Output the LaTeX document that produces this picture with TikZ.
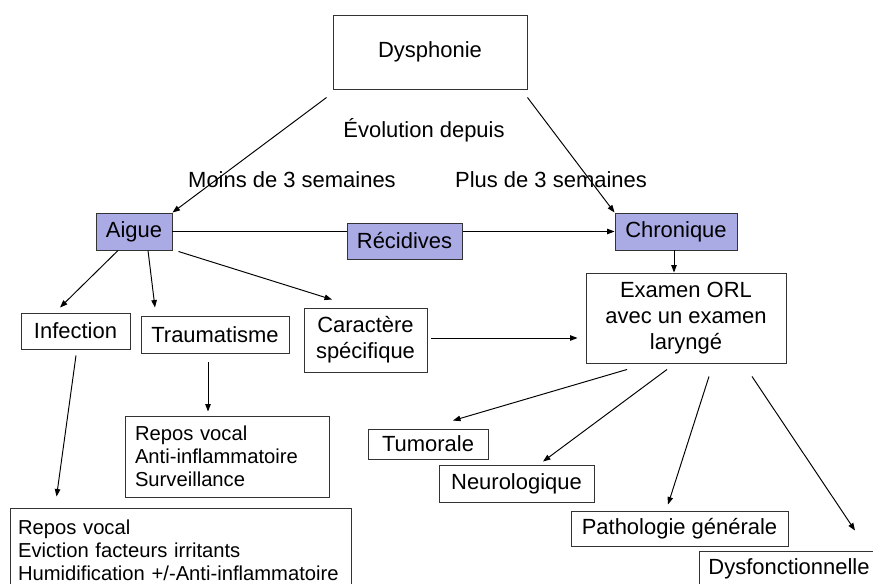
\documentclass[tikz,border=0pt]{standalone}
\usepackage{fontspec}
\setmainfont{Liberation Sans}
\usepackage{tikz}
\usetikzlibrary{arrows.meta,calc}

\definecolor{lavande}{RGB}{170,170,228}

\begin{document}
\begin{tikzpicture}[x=0.02cm,y=-0.02cm,line width=0.55pt,
    font=\fontsize{12.5}{14.6}\selectfont,
    box/.style={draw=black!80,fill=white,inner sep=0pt,align=center},
    hilite/.style={box,fill=lavande},
    liste/.style={draw=black!80,fill=white,inner xsep=0.2cm,inner ysep=0pt,align=left,
        font=\fontsize{11.5}{13.1}\selectfont},
    arr/.style={-{Triangle[length=1.5mm,width=1.1mm]}}]

    \useasboundingbox (0,0) rectangle (873,583);

    \node[box, minimum width=3.88cm, minimum height=1.48cm] (dys) at (430,52) {Dysphonie};
    \node (evol) at (424,130) {Évolution depuis};
    \node (moins) at (292,180) {Moins de 3 semaines};
    \node (plus) at (551,180) {Plus de 3 semaines};

    \node[hilite, minimum width=1.52cm, minimum height=0.74cm] (aigue) at (134,231.5) {Aigue};
    \node[hilite, minimum width=2.44cm, minimum height=0.74cm] (chron) at (676,231.5) {Chronique};

    \node[box, minimum width=4cm, minimum height=1.8cm] (exam) at (686,318)
        {Examen ORL\\avec un examen\\laryngé};
    \node[box, minimum width=2.18cm, minimum height=0.72cm] (infect) at (75.5,331) {Infection};
    \node[box, minimum width=2.96cm, minimum height=0.74cm] (trauma) at (215,334.5) {Traumatisme};
    \node[box, minimum width=2.46cm, minimum height=1.28cm] (carac) at (365.5,340) {Caractère\\spécifique};

    \node[liste, text width=3.7cm, minimum height=1.62cm] (soin1) at (227.5,456.5)
        {Repos vocal\\Anti-inflammatoire\\Surveillance};
    \node[liste, inner xsep=0.16cm, text width=6.52cm, minimum height=1.68cm] (soin2) at (181,550)
        {Repos vocal\\Eviction facteurs irritants\\Humidification +/-Anti-inflammatoire};

    \node[box, minimum width=2.4cm, minimum height=0.6cm] (tumor) at (428,444) {Tumorale};
    \node[box, minimum width=3.1cm, minimum height=0.74cm] (neuro) at (516.5,483.5) {Neurologique};
    \node[box, minimum width=4.34cm, minimum height=0.7cm] (patho) at (679.5,528.5) {Pathologie générale};
    \node[box, minimum width=3.6cm, minimum height=0.72cm] (dysf) at (789,569) {Dysfonctionnelle};

    \draw[arr] ($(dys.south west)+(-6,8)$) -- (aigue.north east);
    \draw[arr] ($(dys.south east)+(0,8)$) -- (chron.north west);
    \draw[arr] (aigue.east) -- (chron.west);
    \draw[arr] ($(chron.south)+(-2,0)$) -- ($(exam.north)+(-12,0)$);

    \node[hilite, minimum width=2.3cm, minimum height=0.72cm] (recid) at (404.5,241) {Récidives};

    \draw[arr] ($(aigue.south)+(-16,0)$) -- ($(infect.north)+(-15.5,-5)$);
    \draw[arr] ($(aigue.south)+(14,0)$) -- ($(trauma.north)+(-60,-8)$);
    \draw[arr] ($(aigue.south east)+(6,1)$) -- ($(carac.north)+(-33.5,-8)$);
    \draw[arr] ($(carac.east)+(4,-2)$) -- ($(exam.west)+(-8,20)$);

    \draw[arr] ($(infect.south)+(0.5,6)$) -- ($(soin2.north west)+(47,-11)$);
    \draw[arr] ($(trauma.south)+(-7,9)$) -- ($(soin1.north)+(-19.5,-4)$);

    \draw[arr] ($(exam.south)+(-59,6)$) -- ($(tumor.north)+(25,-8)$);
    \draw[arr] ($(exam.south)+(-19,6)$) -- ($(neuro.north)+(26.5,-3)$);
    \draw[arr] ($(exam.south)+(23,13)$) -- ($(patho.north)+(-11.5,-6)$);
    \draw[arr] ($(exam.south)+(66,13)$) -- ($(dysf.north)+(66,-20)$);
\end{tikzpicture}
\end{document}
